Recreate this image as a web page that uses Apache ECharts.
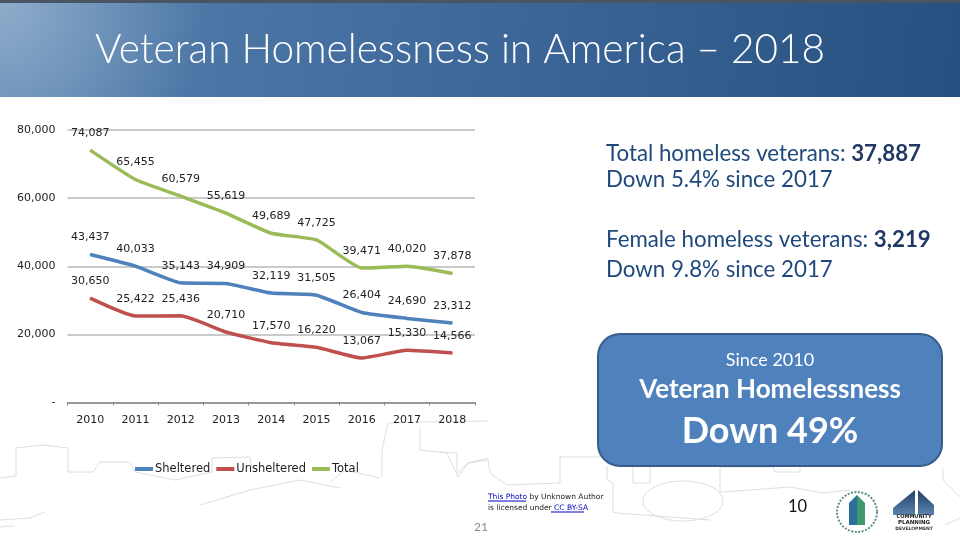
<!DOCTYPE html>
<html><head><meta charset="utf-8">
<style>html,body{margin:0;padding:0;background:#fff}#c{width:960px;height:540px}</style>
<script src="https://cdn.jsdelivr.net/npm/echarts@6/dist/echarts.min.js"></script>
</head><body><div id="c"></div>
<script>
const years = ['2010','2011','2012','2013','2014','2015','2016','2017','2018'];
const sheltered = [43437,40033,35143,34909,32119,31505,26404,24690,23312];
const unsheltered = [30650,25422,25436,20710,17570,16220,13067,15330,14566];
const total = [74087,65455,60579,55619,49689,47725,39471,40020,37878];
const numFont = '"DejaVu Sans"';
const fmt = v => v === 0 ? '-' : v.toLocaleString('en-US');
function line(name, data, color){
  return {name, type:'line', data, smooth:0.15, symbol:'circle', symbolSize:1, showSymbol:true, lineStyle:{color, width:3.5}, itemStyle:{color},
    label:{show:true, position:'top', distance:11, color:'#222', fontFamily:numFont, fontSize:11, formatter:p=>fmt(p.value)},
    labelLayout:{hideOverlap:false}, z:2};
}
const outlines = [
 [[0,478],[16,476],[16,448],[43,445],[68,448],[68,472],[93,472],[100,462],[130,462],[135,472],[175,480],[212,472],[212,458],[250,457],[252,468]],
 [[382,477],[382,450],[388,423],[420,422],[488,421]],
 [[420,427],[420,450],[447,453],[458,477],[468,463],[488,458]],
 [[440,452],[457,453],[457,473],[468,463],[488,460],[490,473],[507,485],[560,483],[560,457],[600,457],[600,440]],
 [[607,466],[607,480],[613,483],[613,512],[617,513],[710,520]],
 [[633,467],[633,483],[650,483],[650,467]],
 [[720,467],[720,492],[723,492],[790,487],[823,493],[850,490]],
 [[720,467],[773,467],[775,472],[800,472],[800,467]],
 [[943,468],[943,480],[960,497]],[[945,525],[960,518]],
 [[0,520],[30,518],[45,512]],[[0,527],[14,526]],
 [[200,505],[250,490],[300,480],[340,488]],[[330,482],[345,470],[380,478]]
];
const graphics = [
 {type:'rect', z:0, silent:true, shape:{x:0,y:0,width:960,height:97},
  style:{fill:new echarts.graphic.LinearGradient(0,0,1,1,[{offset:0,color:'#5580ac'},{offset:.4,color:'#436d9f'},{offset:1,color:'#26507f'}])}},
 {type:'rect', z:0, silent:true, shape:{x:0,y:3,width:240,height:94},
  style:{fill:new echarts.graphic.RadialGradient(0,0,210,[{offset:0,color:'rgba(190,210,230,0.55)'},{offset:1,color:'rgba(190,210,230,0)'}],true)}},
 {type:'rect', z:1, silent:true, shape:{x:0,y:0,width:960,height:3}, style:{fill:'#4a5563'}},
 {type:'text', z:2, x:95, y:50, style:{text:'Veteran Homelessness in America – 2018', fill:'#fff', font:'300 40.5px Lato', textVerticalAlign:'middle'}},
 ...outlines.map(o=>({type:'polyline', z:0, silent:true, shape:{points:o}, style:{fill:'none',stroke:'#dadfe5',lineWidth:1}})),
 {type:'ellipse', z:0, silent:true, shape:{cx:683,cy:501,rx:40,ry:20}, style:{fill:'none',stroke:'#dadfe5',lineWidth:1}},
 {type:'text', z:2, x:606, y:154, style:{rich:{a:{fill:'#1f497d',font:'22.3px Lato'},b:{fill:'#1f3864',font:'bold 22.3px Lato'}}, text:'{a|Total homeless veterans: }{b|37,887}', textVerticalAlign:'middle'}},
 {type:'text', z:2, x:606, y:180, style:{text:'Down 5.4% since 2017', fill:'#1f497d', font:'22.3px Lato', textVerticalAlign:'middle'}},
 {type:'text', z:2, x:606, y:240, style:{rich:{a:{fill:'#1f497d',font:'22.3px Lato'},b:{fill:'#1f3864',font:'bold 22.3px Lato'}}, text:'{a|Female homeless veterans: }{b|3,219}', textVerticalAlign:'middle'}},
 {type:'text', z:2, x:606, y:270, style:{text:'Down 9.8% since 2017', fill:'#1f497d', font:'22.3px Lato', textVerticalAlign:'middle'}},
 {type:'rect', z:2, shape:{x:598,y:334,width:344,height:132,r:22}, style:{fill:'#4f81bd',stroke:'#385d8a',lineWidth:2}},
 {type:'text', z:3, x:770, y:360, style:{text:'Since 2010', fill:'#fff', font:'18px Lato', textAlign:'center', textVerticalAlign:'middle'}},
 {type:'text', z:3, x:770, y:390, style:{text:'Veteran Homelessness', fill:'#fff', font:'bold 26px Lato', textAlign:'center', textVerticalAlign:'middle'}},
 {type:'text', z:3, x:770, y:431, style:{text:'Down 49%', fill:'#fff', font:'bold 36px Lato', textAlign:'center', textVerticalAlign:'middle'}},
 {type:'text', z:3, x:488, y:497, style:{rich:{l:{fill:'#0000c0',font:'7.5px "DejaVu Sans"'},t:{fill:'#222',font:'7.5px "DejaVu Sans"'}}, text:'{l|This Photo}{t| by Unknown Author}', textVerticalAlign:'middle'}},
 {type:'line', z:3, shape:{x1:488,y1:501,x2:526,y2:501}, style:{stroke:'#0000c0',lineWidth:1}},
 {type:'text', z:3, x:488, y:508, style:{rich:{l:{fill:'#0000c0',font:'7.5px "DejaVu Sans"'},t:{fill:'#222',font:'7.5px "DejaVu Sans"'}}, text:'{t|is licensed under }{l|CC BY-SA}', textVerticalAlign:'middle'}},
 {type:'line', z:3, shape:{x1:551,y1:512,x2:584,y2:512}, style:{stroke:'#0000c0',lineWidth:1}},
 {type:'text', z:3, x:474, y:527, style:{text:'21', fill:'#8a8a8a', font:'12px Lato', textVerticalAlign:'middle'}},
 {type:'text', z:3, x:788, y:507, style:{text:'10', fill:'#111', font:'16.5px Lato', textVerticalAlign:'middle'}},
 {type:'circle', z:3, shape:{cx:857,cy:512,r:20}, style:{fill:'#fff',stroke:'#5f8f8a',lineWidth:2,lineDash:[2,1.5]}},
 {type:'polygon', z:3, shape:{points:[[849,525],[849,503],[857,495],[857,525]]}, style:{fill:'#2c6e9c'}},
 {type:'polygon', z:3, shape:{points:[[857,525],[857,495],[865,503],[865,525]]}, style:{fill:'#3f9a6b'}},
 {type:'polygon', z:3, shape:{points:[[893,508],[915,490],[915,515],[893,515]]}, style:{fill:new echarts.graphic.LinearGradient(0,0,0,1,[{offset:0,color:'#1f3f66'},{offset:1,color:'#5b84ad'}])}},
 {type:'polygon', z:3, shape:{points:[[918,490],[934,505],[934,515],[918,515]]}, style:{fill:new echarts.graphic.LinearGradient(0,0,0,1,[{offset:0,color:'#1f3f66'},{offset:1,color:'#5b84ad'}])}},
 {type:'text', z:3, x:914, y:517, style:{text:'COMMUNITY', fill:'#222', font:'bold 5px "DejaVu Sans"', textAlign:'center', textVerticalAlign:'middle'}},
 {type:'text', z:3, x:914, y:522.5, style:{text:'PLANNING', fill:'#222', font:'bold 5.5px "DejaVu Sans"', textAlign:'center', textVerticalAlign:'middle'}},
 {type:'text', z:3, x:914, y:528.5, style:{text:'DEVELOPMENT', fill:'#333', font:'bold 4.5px "DejaVu Sans"', textAlign:'center', textVerticalAlign:'middle'}}
];
const chart = echarts.init(document.getElementById('c'), null, {renderer:'canvas'});
chart.setOption({
  animation:false,
  backgroundColor:'#fff',
  grid:{left:67.5, right:485, top:130, height:272.5, containLabel:false},
  legend:{left:130, top:458, itemWidth:18, itemHeight:4, itemGap:6, icon:'rect',
    data:['Sheltered','Unsheltered','Total'],
    textStyle:{color:'#222', fontFamily:numFont, fontSize:11.5, padding:[0,0,0,-3]}},
  xAxis:{type:'category', data:years, boundaryGap:true,
    axisLine:{lineStyle:{color:'#888',width:1.5}}, axisTick:{show:true,length:3,lineStyle:{color:'#888',width:1}},
    axisLabel:{color:'#222', fontFamily:numFont, fontSize:11, margin:12}},
  yAxis:{type:'value', min:0, max:80000, interval:20000,
    axisLine:{show:false}, axisTick:{show:false},
    splitLine:{lineStyle:{color:'#b8b8b8',width:1.5}},
    axisLabel:{color:'#222', fontFamily:numFont, fontSize:11, margin:12, formatter:fmt}},
  series:[line('Sheltered',sheltered,'#4f81bd'), line('Unsheltered',unsheltered,'#c0504d'), line('Total',total,'#9bbb59')],
  graphic:{elements:graphics}
});
</script></body></html>
